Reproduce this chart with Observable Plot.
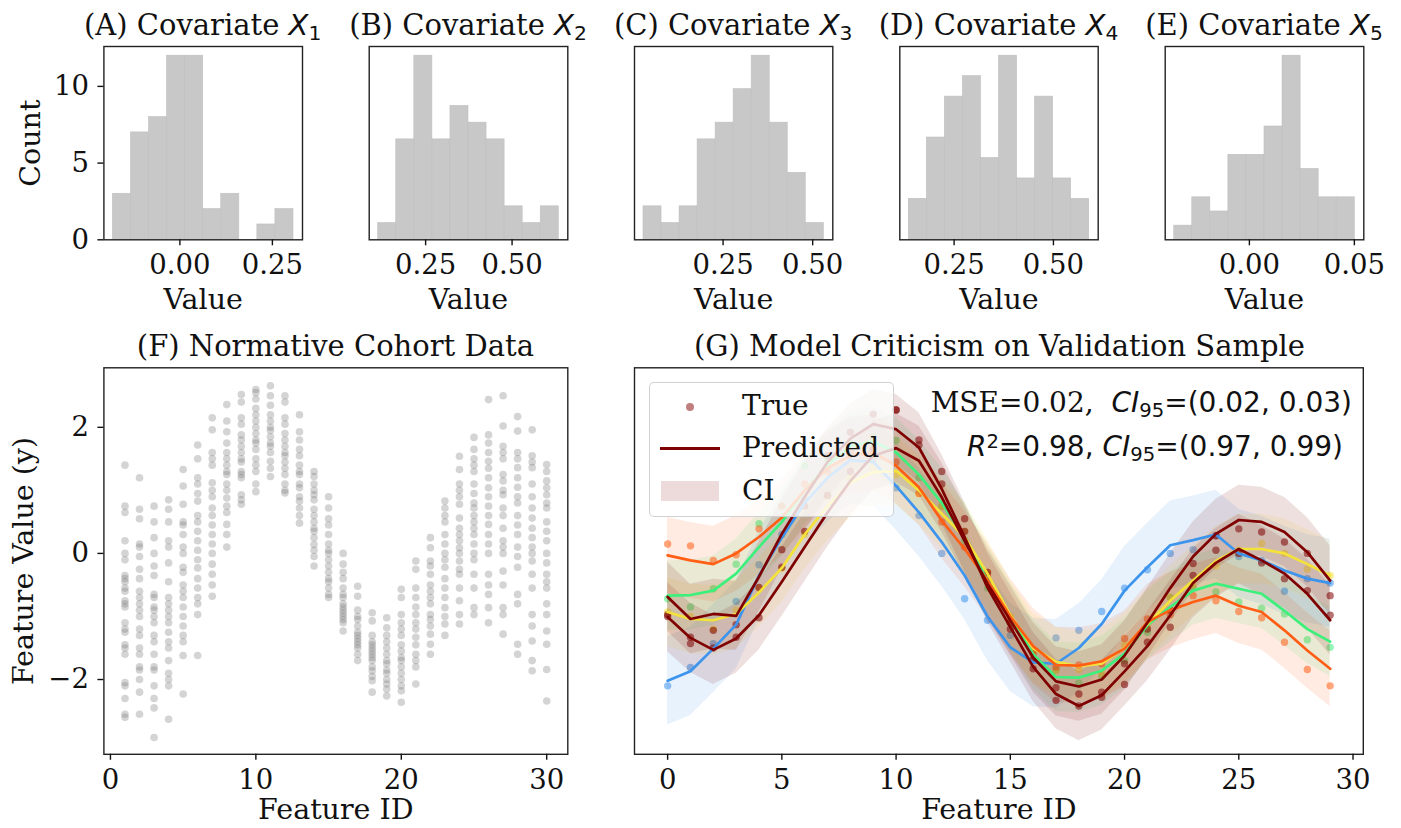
<!DOCTYPE html>
<html><head><meta charset="utf-8">
<script src="https://cdn.jsdelivr.net/npm/d3@7"></script>
<script src="https://cdn.jsdelivr.net/npm/@observablehq/plot@0.6"></script>
<style>
body{margin:0;background:#fff;}
#root{position:relative;width:1401px;height:828px;overflow:hidden;font-family:"DejaVu Serif",serif;color:#111;background:#fff;}
.ttl{position:absolute;white-space:nowrap;line-height:1;font-size:29px;transform:translate(-50%,-50%);}
.ann{position:absolute;white-space:nowrap;line-height:1;font-size:28px;transform:translate(-100%,-50%);}
.m{font-family:"DejaVu Sans",sans-serif;font-style:italic;}
.s{font-family:"DejaVu Sans",sans-serif;}
sub{font-family:"DejaVu Sans",sans-serif;font-style:normal;font-size:0.7em;vertical-align:baseline;position:relative;top:0.24em;}
sup{font-family:"DejaVu Sans",sans-serif;font-style:normal;font-size:0.7em;vertical-align:baseline;position:relative;top:-0.42em;}
#legend{position:absolute;box-sizing:border-box;background:rgba(255,255,255,0.8);border:1px solid rgba(204,204,204,0.9);border-radius:5px;}
#legend .lt{position:absolute;font-size:28px;line-height:1;white-space:nowrap;transform:translateY(-50%);}
</style>
</head><body><div id="root"></div>
<script>
// ---------------- DATA ----------------
// Histograms (A)-(E): 10 equal bins between the range ends
const countsX1 = [3, 7, 8, 12, 12, 2, 3, 0, 1, 2];
const countsX2 = [1, 6, 11, 6, 8, 7, 6, 2, 1, 2];
const countsX3 = [2, 1, 2, 6, 7, 9, 11, 7, 4, 1];
const countsX4 = [2, 5, 7, 8, 4, 9, 3, 7, 3, 2];
const countsX5 = [1, 3, 2, 6, 6, 8, 13, 5, 3, 3];
const rangeX1 = [-0.181, 0.307];
const rangeX2 = [0.113, 0.635];
const rangeX3 = [0.028, 0.531];
const rangeX4 = [0.136, 0.590];
const rangeX5 = [-0.0358, 0.0502];
const ticksX1 = [0, 0.25], ticksX2 = [0.25, 0.5], ticksX3 = [0.25, 0.5], ticksX4 = [0.25, 0.5], ticksX5 = [0, 0.05];
const countTicks = [0, 5, 10];

// (F) Normative cohort: values per feature 1..30
const cohortValues = [
 [1.4,0.75,0.65,0.2,0.0,-0.1,-0.35,-0.4,-0.45,-0.55,-0.6,-0.75,-0.8,-0.85,-1.1,-1.2,-1.25,-1.45,-1.5,-1.6,-2.05,-2.1,-2.3,-2.55,-2.6],
 [1.2,0.7,0.55,0.15,0.1,-0.05,-0.25,-0.4,-0.6,-0.7,-0.8,-0.9,-1.0,-1.2,-1.3,-1.5,-1.6,-1.8,-1.85,-2.0,-2.2,-2.55],
 [0.75,0.5,0.25,0.0,-0.2,-0.35,-0.65,-0.7,-0.85,-0.9,-1.0,-1.1,-1.3,-1.4,-1.6,-1.8,-1.85,-2.1,-2.3,-2.45,-2.92],
 [0.85,0.7,0.5,0.2,0.1,-0.15,-0.45,-0.7,-0.8,-0.9,-1.0,-1.1,-1.25,-1.4,-1.5,-1.7,-1.9,-2.0,-2.1,-2.63],
 [1.33,1.07,0.78,0.5,0.45,0.3,0.1,0.0,-0.22,-0.3,-0.5,-0.6,-0.7,-0.85,-1.0,-1.15,-1.3,-1.4,-1.62,-2.23],
 [1.72,1.5,1.2,1.1,0.95,0.83,0.6,0.5,0.35,0.2,0.05,-0.1,-0.23,-0.4,-0.55,-0.7,-0.8,-0.97,-1.62],
 [2.15,1.96,1.6,1.5,1.4,1.12,1.0,0.9,0.72,0.6,0.45,0.3,0.15,0.0,-0.17,-0.33,-0.5,-0.68],
 [2.36,2.1,1.93,1.75,1.6,1.5,1.4,1.3,1.25,1.1,1.0,0.88,0.75,0.65,0.46,0.3,0.1],
 [2.52,2.4,2.15,2.05,1.88,1.8,1.7,1.6,1.5,1.45,1.3,1.25,1.2,0.93,0.85,0.78],
 [2.6,2.55,2.45,2.3,2.2,2.1,2.0,1.9,1.8,1.75,1.65,1.5,1.4,1.3,1.1,0.98],
 [2.66,2.5,2.35,2.2,2.1,2.0,1.95,1.85,1.75,1.7,1.6,1.46,1.35,1.22],
 [2.5,2.4,2.15,2.05,1.9,1.8,1.7,1.6,1.55,1.45,1.35,1.25,1.1,1.0,0.96],
 [2.2,1.93,1.8,1.65,1.55,1.4,1.3,1.25,1.1,1.04,0.9,0.83,0.72,0.6,0.48],
 [1.3,1.22,1.1,1.0,0.93,0.85,0.7,0.6,0.5,0.4,0.35,0.25,0.14,0.05,-0.05,-0.2],
 [0.9,0.72,0.55,0.45,0.3,0.15,0.05,0.0,-0.1,-0.2,-0.3,-0.4,-0.45,-0.55,-0.65,-0.7],
 [0.0,-0.17,-0.3,-0.4,-0.55,-0.65,-0.7,-0.8,-0.85,-0.9,-0.95,-1.0,-1.05,-1.1,-1.23],
 [-0.52,-0.68,-0.9,-1.0,-1.05,-1.15,-1.25,-1.3,-1.35,-1.4,-1.45,-1.5,-1.6,-1.7],
 [-0.94,-1.07,-1.3,-1.4,-1.45,-1.5,-1.55,-1.6,-1.65,-1.7,-1.8,-1.86,-1.95,-2.02,-2.2],
 [-1.02,-1.18,-1.3,-1.4,-1.5,-1.6,-1.7,-1.75,-1.85,-1.9,-2.0,-2.07,-2.15,-2.26],
 [-0.57,-0.7,-0.97,-1.1,-1.2,-1.3,-1.45,-1.55,-1.65,-1.7,-1.8,-1.9,-2.0,-2.1,-2.18,-2.36],
 [-0.12,-0.25,-0.55,-0.7,-0.85,-0.97,-1.1,-1.2,-1.33,-1.45,-1.6,-1.7,-1.8,-2.07],
 [0.25,0.09,-0.12,-0.2,-0.33,-0.5,-0.6,-0.7,-0.8,-0.97,-1.05,-1.15,-1.28,-1.44,-1.6],
 [0.83,0.72,0.6,0.5,0.3,0.15,0.0,-0.1,-0.22,-0.4,-0.55,-0.7,-0.86,-1.0,-1.12,-1.3],
 [1.54,1.33,1.1,1.0,0.9,0.78,0.56,0.4,0.3,0.2,0.09,0.0,-0.12,-0.25,-0.33,-0.55,-0.75,-0.97,-1.12],
 [1.84,1.65,1.5,1.4,1.3,1.1,0.95,0.8,0.72,0.6,0.5,0.4,0.3,0.15,0.0,-0.1,-0.33,-0.55,-0.86,-0.97],
 [2.44,1.88,1.75,1.6,1.46,1.35,1.2,1.04,0.9,0.75,0.6,0.46,0.3,0.15,0.0,-0.33,-0.5,-0.65,-0.86,-1.1],
 [2.5,2.02,1.7,1.6,1.5,1.25,1.15,1.0,0.93,0.72,0.6,0.4,0.2,0.1,0.0,-0.28,-0.5,-0.86,-0.97,-1.28],
 [2.17,1.94,1.6,1.5,1.36,1.2,1.05,0.9,0.8,0.6,0.45,0.3,0.1,-0.05,-0.22,-0.65,-0.8,-1.44,-1.6],
 [1.96,1.55,1.45,1.36,1.1,0.9,0.72,0.56,0.4,0.25,0.1,0.0,-0.12,-0.33,-0.55,-0.97,-1.15,-1.39,-1.7,-1.86],
 [1.41,1.3,1.15,1.04,0.93,0.8,0.72,0.5,0.35,0.2,0.0,-0.15,-0.33,-0.45,-0.55,-0.8,-0.97,-1.23,-1.44,-1.84,-2.34]
];
const cohortTicksX = [0, 10, 20, 30];
const valueTicksY = [-2, 0, 2];

// (G) Validation samples: features 0..29
const featureIds = d3.range(30);
const seriesColors = ["#3d94ec", "#3def7b", "#f4e23a", "#ff5e14", "#7f0000", "#7f0000"];
const ciHalfWidth = [0.70, 0.55, 0.55, 0.60, 0.55, 0.55];
const predBlue   = [-2.02,-1.87,-1.51,-1.13,-0.35,0.25,0.80,1.20,1.48,1.45,1.07,0.65,0.18,-0.35,-1.00,-1.49,-1.73,-1.75,-1.50,-1.12,-0.59,-0.22,0.13,0.21,0.30,0.00,-0.11,-0.27,-0.40,-0.47];
const trueBlue   = [-2.10,-1.81,-1.43,-0.76,-0.18,0.30,0.85,1.35,1.55,1.50,1.04,0.60,0.00,-0.72,-1.06,-1.30,-1.68,-1.34,-1.22,-0.92,-0.55,-0.26,0.00,0.06,0.28,-0.05,-0.11,-0.60,-0.40,-0.47];
const predGreen  = [-0.67,-0.66,-0.59,-0.32,0.10,0.50,1.00,1.40,1.70,1.78,1.60,1.25,0.80,0.25,-0.43,-1.01,-1.60,-1.96,-1.97,-1.86,-1.59,-1.14,-0.85,-0.59,-0.48,-0.56,-0.64,-0.91,-1.20,-1.40];
const trueGreen  = [-0.72,-0.85,-0.56,-0.17,0.47,0.75,1.39,1.50,1.75,1.85,1.79,1.20,0.75,0.20,-0.55,-1.10,-1.55,-1.85,-2.06,-1.94,-1.70,-1.25,-0.70,-0.55,-0.61,-0.77,-0.87,-0.96,-1.37,-1.49];
const predYellow = [-0.93,-1.04,-1.06,-0.96,-0.62,-0.23,0.30,0.75,1.12,1.29,1.31,1.00,0.63,0.26,-0.32,-0.98,-1.50,-1.72,-1.79,-1.75,-1.50,-1.12,-0.75,-0.43,-0.12,0.07,0.07,0.00,-0.17,-0.35];
const trueYellow = [-0.93,-1.00,-1.20,-0.90,-0.55,-0.24,0.30,0.90,1.20,1.35,1.25,0.95,0.74,0.35,-0.30,-1.00,-1.55,-1.86,-1.84,-1.90,-1.45,-1.15,-0.70,-0.50,-0.20,0.05,0.16,0.00,-0.25,-0.35];
const predOrange = [-0.03,-0.11,-0.17,0.00,0.26,0.57,1.00,1.35,1.55,1.60,1.39,1.05,0.52,0.07,-0.43,-1.00,-1.47,-1.77,-1.78,-1.71,-1.51,-1.09,-0.90,-0.77,-0.67,-0.83,-0.93,-1.22,-1.54,-1.83];
const trueOrange = [0.15,0.12,-0.11,-0.02,0.39,0.75,1.10,1.30,1.60,1.65,1.45,0.95,0.50,0.10,-0.35,-1.05,-1.60,-1.80,-1.77,-1.75,-1.35,-1.04,-0.97,-0.67,-0.75,-0.92,-1.02,-1.41,-1.84,-2.10];
const predRedA   = [-0.69,-1.04,-0.96,-0.99,-0.37,0.31,0.90,1.45,1.82,2.05,1.97,1.68,1.02,0.26,-0.54,-1.17,-1.80,-2.23,-2.42,-2.25,-1.87,-1.47,-0.98,-0.47,-0.15,0.07,-0.11,-0.32,-0.64,-1.06];
const trueRedA   = [-0.97,-1.33,-1.22,-1.13,-0.54,0.06,0.75,1.55,1.92,2.21,2.28,1.80,1.30,0.35,-0.45,-1.10,-1.69,-2.13,-2.42,-2.28,-2.08,-1.41,-0.90,-0.35,0.05,0.00,-0.15,-0.40,-0.59,-0.98];
const predRedB   = [-1.01,-1.34,-1.53,-1.35,-0.98,-0.45,0.10,0.65,1.15,1.55,1.67,1.47,0.89,0.20,-0.48,-1.06,-1.65,-2.03,-2.11,-2.00,-1.62,-1.10,-0.55,-0.05,0.31,0.53,0.50,0.34,0.02,-0.43];
const trueRedB   = [-1.00,-1.43,-1.50,-1.33,-1.02,-0.22,0.35,0.92,1.30,1.65,2.27,1.72,1.10,0.55,-0.30,-1.20,-1.83,-2.33,-2.23,-2.20,-1.75,-1.20,-1.17,-0.16,0.28,0.39,0.34,0.18,0.00,-0.67];
const validationTicksX = [0, 5, 10, 15, 20, 25, 30];

// ---------------- LAYOUT ----------------
const W = 1401, H = 828;
const root = document.getElementById("root");
const svgStyle = "position:absolute;left:0;top:0;background:transparent;overflow:visible;font-family:'DejaVu Serif',serif;font-size:27.5px;color:#111;max-width:none;";
function margins(l, t, r, b) { return {marginLeft: l, marginTop: t, marginRight: W - r, marginBottom: H - b}; }
const minusFmt = d => (d < 0 ? "\u2212" + Math.abs(d) : String(d));
const AX = {tickSize: 6, tickPadding: 9, label: null, strokeWidth: 1.4};
const LBL = {fontSize: 28.5, fill: "#111", lineAnchor: "middle", textAnchor: "middle"};

// top row
const topFrames = [[103.4, 302], [368.7, 567.3], [634, 832.3], [899.3, 1097.7], [1164.7, 1363.3]];
const TOP_T = 46, TOP_B = 239.3;
const hists = [
  {counts: countsX1, range: rangeX1, ticks: ticksX1},
  {counts: countsX2, range: rangeX2, ticks: ticksX2},
  {counts: countsX3, range: rangeX3, ticks: ticksX3},
  {counts: countsX4, range: rangeX4, ticks: ticksX4},
  {counts: countsX5, range: rangeX5, ticks: ticksX5}
];
hists.forEach((h, k) => {
  const [l, r] = topFrames[k];
  const n = h.counts.length, w = (h.range[1] - h.range[0]) / n;
  const bins = h.counts.map((c, i) => ({x1: h.range[0] + i * w, x2: h.range[0] + (i + 1) * w, c}));
  const pad = 0.05 * (h.range[1] - h.range[0]);
  const marks = [
    Plot.rect(bins, {x1: "x1", x2: "x2", y1: 0, y2: "c", fill: "#c8c8c8", stroke: "#bfbfbf", strokeWidth: 0.6}),
    Plot.frame({stroke: "#222", strokeWidth: 1.4}),
    Plot.axisX(h.ticks, {...AX, tickFormat: d3.format(".2f")}),
    Plot.text(["Value"], {...LBL, frameAnchor: "bottom", dy: 60})
  ];
  if (k === 0) {
    marks.push(Plot.axisY(countTicks, {...AX}));
    marks.push(Plot.text(["Count"], {...LBL, frameAnchor: "left", dx: -72.6, rotate: -90}));
  }
  const svg = Plot.plot({
    width: W, height: H, ...margins(l, TOP_T, r, TOP_B), style: svgStyle,
    x: {domain: [h.range[0] - pad, h.range[1] + pad]},
    y: {domain: [0, d3.max(h.counts) * 1.05], axis: k === 0 ? undefined : null},
    marks
  });
  root.appendChild(svg);
});

// (F)
const BOT_T = 367.3, BOT_B = 753.8;
const yDomain = [-3.186, 2.944];
const cohortPts = cohortValues.flatMap((vals, i) => vals.map(v => ({f: i + 1, v})));
root.appendChild(Plot.plot({
  width: W, height: H, ...margins(103.4, BOT_T, 567.3, BOT_B), style: svgStyle,
  x: {domain: [-0.45, 31.45]}, y: {domain: yDomain},
  marks: [
    Plot.dot(cohortPts, {x: "f", y: "v", r: 3.8, fill: "#7a7a7a", fillOpacity: 0.32, stroke: "none"}),
    Plot.frame({stroke: "#222", strokeWidth: 1.4}),
    Plot.axisX(cohortTicksX, {...AX}),
    Plot.axisY(valueTicksY, {...AX, tickFormat: minusFmt}),
    Plot.text(["Feature ID"], {...LBL, frameAnchor: "bottom", dy: 56}),
    Plot.text(["Feature Value (y)"], {...LBL, frameAnchor: "left", dx: -80, rotate: -90})
  ]
}));

// (G)
const preds = [predBlue, predGreen, predYellow, predOrange, predRedA, predRedB];
const trues = [trueBlue, trueGreen, trueYellow, trueOrange, trueRedA, trueRedB];
const gData = preds.map((p, s) => featureIds.map(f => ({f, s, pred: p[f], tr: trues[s][f], lo: p[f] - ciHalfWidth[s], hi: p[f] + ciHalfWidth[s]})));
const gMarks = [];
gData.forEach((d, s) => {
  gMarks.push(Plot.dot(d, {x: "f", y: "tr", r: 3.7, fill: seriesColors[s], fillOpacity: 0.55, stroke: "none"}));
  gMarks.push(Plot.areaY(d, {x: "f", y1: "lo", y2: "hi", fill: seriesColors[s], fillOpacity: 0.12}));
});
gData.forEach((d, s) => {
  gMarks.push(Plot.line(d, {x: "f", y: "pred", stroke: seriesColors[s], strokeWidth: 2.7}));
});
root.appendChild(Plot.plot({
  width: W, height: H, ...margins(634, BOT_T, 1362.8, BOT_B), style: svgStyle,
  x: {domain: [-1.45, 30.45]}, y: {domain: yDomain, axis: null},
  marks: [
    ...gMarks,
    Plot.frame({stroke: "#222", strokeWidth: 1.4}),
    Plot.axisX(validationTicksX, {...AX}),
    Plot.text(["Feature ID"], {...LBL, frameAnchor: "bottom", dy: 56})
  ]
}));

// ---------------- TEXT OVERLAYS ----------------
const titles = [
  {html: '(A) Covariate <span class="m">X</span><sub>1</sub>', x: 202.7, y: 25},
  {html: '(B) Covariate <span class="m">X</span><sub>2</sub>', x: 468, y: 25},
  {html: '(C) Covariate <span class="m">X</span><sub>3</sub>', x: 733.2, y: 25},
  {html: '(D) Covariate <span class="m">X</span><sub>4</sub>', x: 998.5, y: 25},
  {html: '(E) Covariate <span class="m">X</span><sub>5</sub>', x: 1264, y: 25},
  {html: '(F) Normative Cohort Data', x: 335.4, y: 346},
  {html: '(G) Model Criticism on Validation Sample', x: 999.5, y: 346}
];
titles.forEach(t => {
  const d = document.createElement("div");
  d.className = "ttl"; d.innerHTML = t.html;
  d.style.left = t.x + "px"; d.style.top = t.y + "px";
  root.appendChild(d);
});
const annots = [
  {html: 'MSE=0.02,&nbsp; <span class="m">CI</span><sub>95</sub><span class="s">=(0.02, 0.03)</span>', x: 1352, y: 403},
  {html: '<span class="m">R</span><sup>2</sup><span class="s">=0.98, </span><span class="m">CI</span><sub>95</sub><span class="s">=(0.97, 0.99)</span>', x: 1343, y: 447}
];
annots.forEach(t => {
  const d = document.createElement("div");
  d.className = "ann"; d.innerHTML = t.html;
  d.style.left = t.x + "px"; d.style.top = t.y + "px";
  root.appendChild(d);
});

// legend
const leg = document.createElement("div");
leg.id = "legend";
Object.assign(leg.style, {left: "649px", top: "382px", width: "245px", height: "135px"});
leg.innerHTML = `
 <div style="position:absolute;left:36px;top:19.5px;width:8px;height:8px;border-radius:50%;background:rgba(127,0,0,0.5)"></div>
 <div class="lt" style="left:92px;top:23px">True</div>
 <div style="position:absolute;left:10px;top:64px;width:60px;height:2.7px;background:#7f0000"></div>
 <div class="lt" style="left:92px;top:65px">Predicted</div>
 <div style="position:absolute;left:11px;top:98px;width:58px;height:20px;background:rgba(127,0,0,0.14)"></div>
 <div class="lt" style="left:92px;top:108px">CI</div>`;
root.appendChild(leg);
</script>
</body></html>
